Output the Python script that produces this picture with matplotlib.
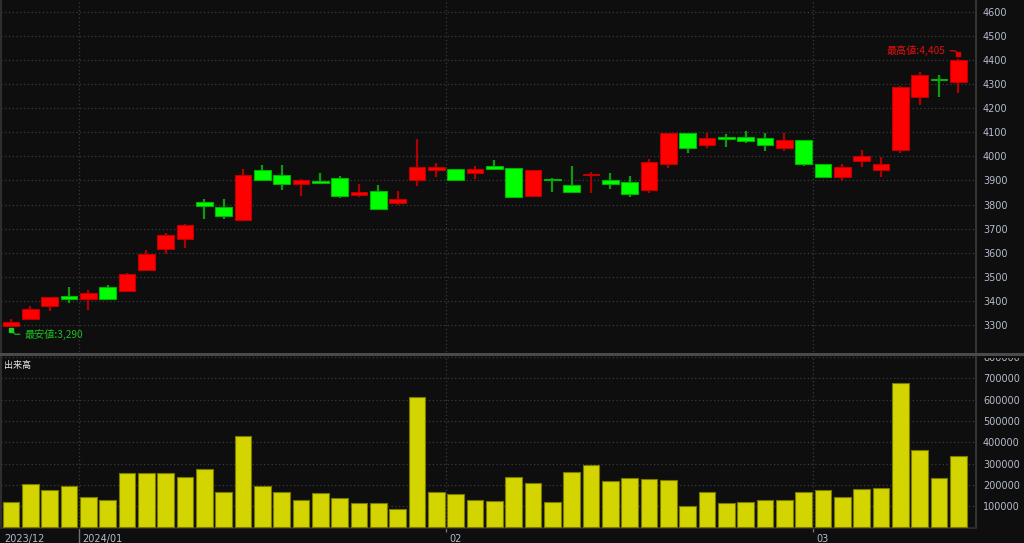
import matplotlib
matplotlib.use("Agg")
import matplotlib.pyplot as plt
from matplotlib.patches import Rectangle
from matplotlib.lines import Line2D
import matplotlib.transforms as mtrans
import numpy as np

# ---------------- data ----------------
opens  = [3294, 3327, 3378, 3421, 3407, 3458, 3441, 3527, 3614, 3658,
          3811, 3789, 3738, 3945, 3924, 3884, 3896, 3909, 3839, 3856,
          3808, 3903, 3943, 3946, 3929, 3961, 3950, 3837, 3906, 3881,
          3921, 3901, 3894, 3862, 3969, 4098, 4048, 4081, 4081, 4075,
          4034, 4068, 3970, 3916, 3979, 3945, 4026, 4246, 4321, 4308]
highs  = [3323, 3378, 3417, 3458, 3444, 3466, 3516, 3610, 3681, 3720,
          3822, 3825, 3949, 3963, 3963, 3907, 3930, 3920, 3887, 3881,
          3856, 4072, 3972, 3946, 3961, 3983, 3950, 3943, 3910, 3961,
          3935, 3932, 3917, 3989, 4098, 4098, 4098, 4091, 4106, 4095,
          4095, 4068, 3970, 3970, 4028, 3998, 4293, 4351, 4337, 4405]
lows   = [3290, 3323, 3359, 3393, 3363, 3403, 3441, 3527, 3596, 3618,
          3742, 3742, 3738, 3903, 3862, 3837, 3885, 3826, 3833, 3783,
          3797, 3878, 3915, 3900, 3907, 3943, 3826, 3837, 3853, 3853,
          3849, 3865, 3833, 3849, 3952, 4013, 4034, 4038, 4055, 4021,
          4021, 3959, 3916, 3898, 3954, 3916, 4013, 4212, 4246, 4262]
closes = [3314, 3367, 3417, 3407, 3434, 3407, 3510, 3596, 3673, 3717,
          3793, 3753, 3924, 3903, 3884, 3901, 3890, 3834, 3851, 3783,
          3825, 3957, 3957, 3900, 3946, 3949, 3833, 3943, 3900, 3853,
          3926, 3886, 3844, 3975, 4098, 4033, 4075, 4074, 4062, 4048,
          4068, 3970, 3916, 3955, 4003, 3970, 4289, 4337, 4317, 4400]
volumes = [119000, 202000, 177000, 192000, 142000, 127000, 255000, 255000, 255000, 238000,
           275000, 167000, 429000, 192000, 167000, 127000, 160000, 139000, 114000, 114000,
           86000, 614000, 164000, 155000, 127000, 122000, 238000, 210000, 119000, 258000,
           292000, 217000, 233000, 229000, 221000, 102000, 164000, 114000, 119000, 127000,
           127000, 167000, 177000, 142000, 180000, 185000, 676000, 362000, 233000, 333000]
month_labels = ["2023/12", "2024/01", "02", "03"]
month_starts = [0, 4, 23, 42]
price_ticks = list(range(3300, 4601, 100))
volume_ticks = list(range(100000, 800001, 100000))
low_label = "最安値:3,290"
high_label = "最高値:4,405"
volume_title = "出来高"

# ---------------- style ----------------
BG = "#0e0e0e"
GRID = "#3a3a3a"
TXT = "#b4bccb"
UP_BODY, UP_EDGE, UP_WICK = "#ff0000", "#c00000", "#b00000"
DN_BODY, DN_EDGE, DN_WICK = "#00ff00", "#00b400", "#109a10"
VOL_FACE, VOL_EDGE = "#d4d400", "#7a7a00"
JP = ["Noto Sans CJK JP", "DejaVu Sans"]

W, H = 1024, 543
fig = plt.figure(figsize=(W / 100, H / 100), dpi=100, facecolor=BG)


def rect(x0, y0, x1, y1):
    return [x0 / W, 1 - y1 / H, (x1 - x0) / W, (y1 - y0) / H]


ax1 = fig.add_axes(rect(1, 1, 976, 352), facecolor=BG)
ax2 = fig.add_axes(rect(1, 356, 976, 528), facecolor=BG, sharex=ax1)

n = len(opens)
x = np.arange(n)
bw = 0.86

# candles
for i in range(n):
    o, h, l, c = opens[i], highs[i], lows[i], closes[i]
    up = c >= o
    wick = UP_WICK if up else DN_WICK
    ax1.vlines(x[i], l, h, color=wick, lw=1.6, zorder=3)
    bottom = min(o, c)
    height = max(abs(c - o), 4)
    ax1.bar(x[i], height, bottom=bottom, width=bw,
            color=UP_BODY if up else DN_BODY,
            edgecolor=UP_EDGE if up else DN_EDGE, linewidth=0.8, zorder=4)

# volume
ax2.bar(x, volumes, width=bw, color=VOL_FACE, edgecolor=VOL_EDGE, linewidth=0.8, zorder=3)

xmin, xmax = -0.517, 49.92
ax1.set_xlim(xmin, xmax)
ax1.set_ylim(3188, 4645)
ax2.set_ylim(-3000, 805000)

boundaries = [s - 0.5 for s in month_starts[1:]]
for ax, ticks in ((ax1, price_ticks), (ax2, volume_ticks)):
    ax.yaxis.tick_right()
    ax.set_yticks(ticks)
    ax.set_yticklabels([str(t) for t in ticks])
    ax.tick_params(axis="y", length=0, pad=5, labelsize=7, labelcolor=TXT)
    for t in ticks:
        ax.axhline(t, color=GRID, lw=0.9, ls=(0, (1, 2)), zorder=1)
    for b in boundaries:
        ax.axvline(b, color=GRID, lw=0.9, ls=(0, (1, 2)), zorder=1)
    for side in ("top", "bottom"):
        ax.spines[side].set_visible(False)
    ax.spines["right"].set_color("#3c3c3c")
    ax.spines["right"].set_linewidth(1.2)
    ax.spines["left"].set_color("#2e2e2e")
    ax.spines["left"].set_linewidth(1.5)
    for lab in ax.get_yticklabels():
        lab.set_horizontalalignment("left")

ax1.tick_params(axis="x", length=0, labelbottom=False)
ax2.spines["bottom"].set_visible(True)
ax2.spines["bottom"].set_color("#2a2a2a")
ax2.spines["bottom"].set_linewidth(1.5)

# date axis
tick_pos = [xmin] + boundaries
ax2.set_xticks(tick_pos)
ax2.set_xticklabels(month_labels)
ax2.tick_params(axis="x", length=3, width=1, color="#707070", labelsize=7,
                labelcolor=TXT, pad=1)
for lab in ax2.get_xticklabels():
    lab.set_horizontalalignment("left")
xt = ax2.xaxis.get_major_ticks()
xt[0].tick1line.set_visible(False)
xt[1].tick1line.set_markersize(15)
xt[1].tick1line.set_color("#9a9a9a")
shift = mtrans.ScaledTranslation(2.5 / 72, 0, fig.dpi_scale_trans)
for lab in ax2.get_xticklabels():
    lab.set_transform(lab.get_transform() + shift)

# volume title
ax2.text(0.003, 0.972, volume_title, transform=ax2.transAxes, color="#e6e6e6",
         fontsize=6.5, family=JP, va="top", ha="left")

# low / high annotations
imin = int(np.argmin(lows))
imax = int(np.argmax(highs))
low_pt = (x[imin], lows[imin] - 11)
high_pt = (x[imax], highs[imax] + 20)
ax1.plot(*low_pt, marker="s", ms=2.5, color="#20d020", zorder=6)
ax1.annotate(low_label, xy=low_pt, xytext=(9.5, -3),
             textcoords="offset points", color="#1fbf1f", fontsize=7.3,
             family=JP, va="center", ha="left",
             arrowprops=dict(arrowstyle="-", color="#1fbf1f", lw=0.8,
                             shrinkA=1, shrinkB=0,
                             connectionstyle="angle,angleA=0,angleB=-45,rad=0"))
ax1.plot(*high_pt, marker="s", ms=2.5, color="#e00000", zorder=6)
ax1.annotate(high_label, xy=high_pt, xytext=(-9, 2.3),
             textcoords="offset points", color="#e01010", fontsize=7.3,
             family=JP, va="center", ha="right",
             arrowprops=dict(arrowstyle="-", color="#e01010", lw=0.8,
                             shrinkA=1, shrinkB=0,
                             connectionstyle="angle,angleA=0,angleB=-45,rad=0"))

# separator between panels (covers top of clipped label on the right)
fig.add_artist(Rectangle((977 / W, 1 - 357.5 / H), 1 - 977 / W, 5.5 / H,
                         transform=fig.transFigure,
                         facecolor=BG, edgecolor="none", zorder=10))
fig.add_artist(Line2D([0, 1], [1 - 353.5 / H] * 2, transform=fig.transFigure,
                      color="#4a4a4a", lw=2.2, zorder=11))

fig.savefig("out.png", dpi=100, facecolor=BG)
